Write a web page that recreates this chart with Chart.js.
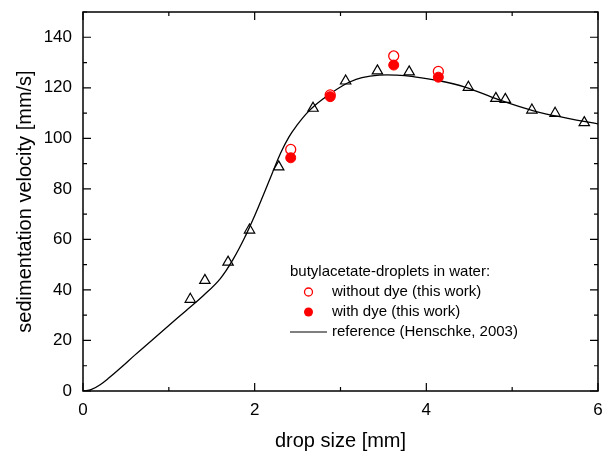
<!DOCTYPE html>
<html>
<head>
<meta charset="utf-8">
<script src="https://cdn.jsdelivr.net/npm/chart.js@4.4.1/dist/chart.umd.min.js"></script>
<style>
  html, body { margin: 0; padding: 0; background: #fff; }
  #wrap { width: 608px; height: 454px; }
</style>
</head>
<body>
<div id="wrap"><canvas id="sedChart" width="608" height="454"></canvas></div>
<script>
// ── Data ──
// Henschke (2003) reference measurements (open triangles)
const refPointsX = [1.25, 1.42, 1.69, 1.94, 2.28, 2.68, 3.06, 3.43, 3.80, 4.49, 4.81, 4.92, 5.23, 5.50, 5.84];
const refPointsY = [36.3, 43.8, 51.0, 63.7, 88.7, 111.9, 122.7, 126.7, 126.3, 120.2, 115.8, 115.4, 111.2, 109.9, 106.2];

// this work, without dye (open red circles)
const noDyeX = [2.42, 2.88, 3.62, 4.14];
const noDyeY = [95.6, 117.2, 132.6, 126.5];

// this work, with dye (filled red circles)
const dyeX = [2.42, 2.88, 3.62, 4.14];
const dyeY = [92.3, 116.5, 129.0, 124.2];

// reference curve (Henschke, 2003)
const curveX = [0, 0.1, 0.2, 0.3, 0.45, 0.6, 0.8, 1.0, 1.2, 1.4, 1.6, 1.75, 1.9, 2.0, 2.1, 2.2, 2.3, 2.4, 2.5, 2.6, 2.7, 2.8, 2.9, 3.0, 3.1, 3.25, 3.45, 3.65, 3.85, 4.15, 4.45, 4.85, 5.25, 5.65, 6.0];
const curveY = [0, 0.6, 2.5, 5.1, 9.5, 14.1, 20.0, 25.9, 31.8, 37.7, 44.5, 52.2, 61.9, 69.4, 77.5, 85.8, 94.0, 100.6, 105.5, 109.7, 113, 115.7, 118.1, 120.3, 122.2, 124, 125, 125, 124.4, 122.8, 120.3, 115.2, 110.9, 107.9, 105.7];

const xTicks = [0, 2, 4, 6];
const yTicks = [0, 20, 40, 60, 80, 100, 120, 140];

const FONT = "Arial, 'Liberation Sans', sans-serif";
const RED = '#ff0000';

const pts = (xs, ys) => xs.map((x, i) => ({ x, y: ys[i] }));

/**
 * Box frame with inward major/minor ticks on all four sides
 */
const frameTicks = {
  id: 'frameTicks',
  afterDraw(chart) {
    const { ctx, chartArea: a, scales: { x, y } } = chart;
    ctx.save();
    ctx.strokeStyle = '#000';
    ctx.lineWidth = 1.5;
    ctx.strokeRect(a.left, a.top, a.right - a.left, a.bottom - a.top);
    ctx.lineWidth = 1.2;
    ctx.beginPath();
    for (let v = 0; v <= 6; v += 1) {
      const px = x.getPixelForValue(v);
      const len = v % 2 === 0 ? 8 : 4;
      ctx.moveTo(px, a.bottom); ctx.lineTo(px, a.bottom - len);
      ctx.moveTo(px, a.top); ctx.lineTo(px, a.top + len);
    }
    for (let v = 0; v <= 150; v += 10) {
      const py = y.getPixelForValue(v);
      const len = v % 20 === 0 ? 8 : 4;
      ctx.moveTo(a.left, py); ctx.lineTo(a.left + len, py);
      ctx.moveTo(a.right, py); ctx.lineTo(a.right - len, py);
    }
    ctx.stroke();
    ctx.restore();
  }
};

/**
 * Legend block inside the plot area
 */
const insetLegend = {
  id: 'insetLegend',
  afterDraw(chart) {
    const { ctx } = chart;
    ctx.save();
    ctx.font = '15px ' + FONT;
    ctx.fillStyle = '#000';
    ctx.textBaseline = 'middle';
    ctx.textAlign = 'left';
    ctx.fillText('butylacetate-droplets in water:', 290, 272);
    ctx.fillText('without dye (this work)', 332, 292);
    ctx.fillText('with dye (this work)', 332, 312);
    ctx.fillText('reference (Henschke, 2003)', 332, 332);

    ctx.strokeStyle = RED;
    ctx.lineWidth = 1.3;
    ctx.beginPath(); ctx.arc(308.5, 292, 4, 0, Math.PI * 2); ctx.stroke();
    ctx.fillStyle = RED;
    ctx.beginPath(); ctx.arc(308.5, 312, 4.5, 0, Math.PI * 2); ctx.fill();

    ctx.strokeStyle = '#000';
    ctx.lineWidth = 1.2;
    ctx.beginPath(); ctx.moveTo(290, 332); ctx.lineTo(327, 332); ctx.stroke();
    ctx.restore();
  }
};

new Chart(document.getElementById('sedChart'), {
  type: 'scatter',
  data: {
    datasets: [
      {
        label: 'with dye (this work)',
        data: pts(dyeX, dyeY),
        pointStyle: 'circle',
        pointRadius: 5,
        backgroundColor: RED,
        borderColor: RED,
        borderWidth: 1,
      },
      {
        label: 'without dye (this work)',
        data: pts(noDyeX, noDyeY),
        pointStyle: 'circle',
        pointRadius: 5,
        backgroundColor: '#fff',
        borderColor: RED,
        borderWidth: 1.3,
      },
      {
        label: 'Henschke data',
        data: pts(refPointsX, refPointsY),
        pointStyle: 'triangle',
        pointRadius: 6,
        backgroundColor: 'rgba(0,0,0,0)',
        borderColor: '#000',
        borderWidth: 1.2,
      },
      {
        label: 'reference (Henschke, 2003)',
        data: pts(curveX, curveY),
        showLine: true,
        pointRadius: 0,
        borderColor: '#000',
        borderWidth: 1.3,
        tension: 0.4,
        fill: false,
      },
    ]
  },
  options: {
    responsive: false,
    devicePixelRatio: 1,
    animation: false,
    layout: { padding: { top: 12, right: 10, left: 0, bottom: 0 } },
    plugins: {
      legend: { display: false },
      tooltip: { enabled: false },
    },
    scales: {
      x: {
        type: 'linear',
        min: 0,
        max: 6,
        afterBuildTicks: (s) => { s.ticks = xTicks.map(v => ({ value: v })); },
        afterFit: (s) => { s.height = 63; s.paddingLeft = 0; s.paddingRight = 0; },
        grid: { display: false, drawTicks: false },
        border: { display: false },
        ticks: { color: '#000', font: { family: FONT, size: 17 }, padding: 9 },
        title: {
          display: true,
          text: 'drop size [mm]',
          color: '#000',
          font: { family: FONT, size: 20 },
          padding: { top: 1, bottom: 1 },
        },
      },
      y: {
        type: 'linear',
        min: 0,
        max: 150,
        afterBuildTicks: (s) => { s.ticks = yTicks.map(v => ({ value: v })); },
        afterFit: (s) => { s.width = 83; s.paddingTop = 0; s.paddingBottom = 0; },
        grid: { display: false, drawTicks: false },
        border: { display: false },
        ticks: { color: '#000', font: { family: FONT, size: 17 }, padding: 11 },
        title: {
          display: true,
          text: 'sedimentation velocity [mm/s]',
          color: '#000',
          font: { family: FONT, size: 20 },
          padding: { top: 13, bottom: 13 },
        },
      },
    },
  },
  plugins: [frameTicks, insetLegend],
});
</script>
</body>
</html>
